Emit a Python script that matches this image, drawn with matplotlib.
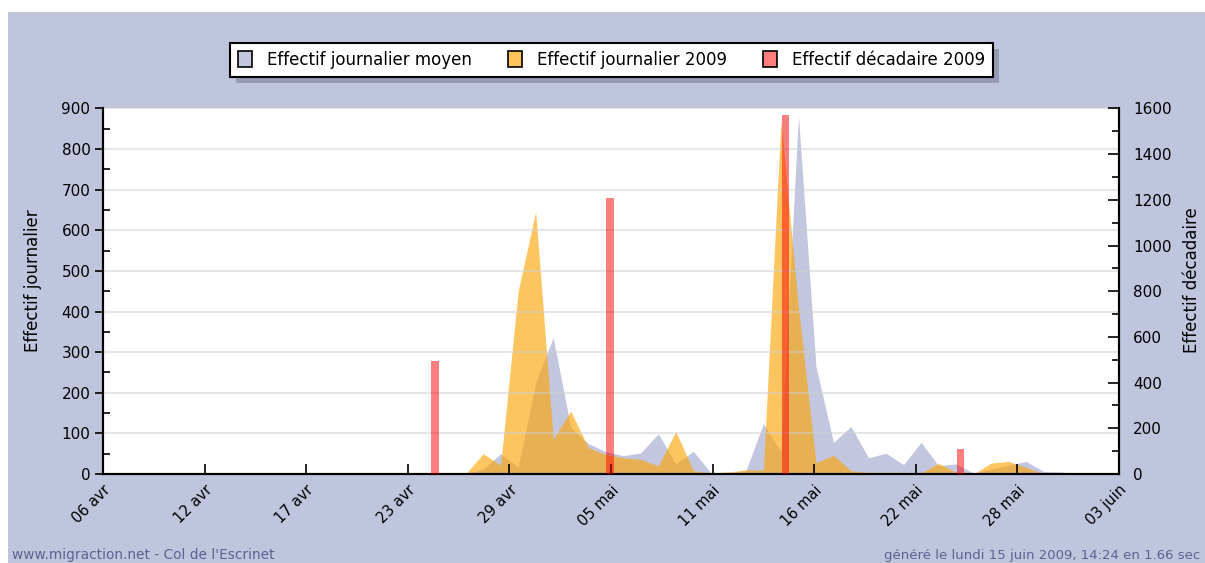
import numpy as np
import matplotlib
matplotlib.use("Agg")
import matplotlib.pyplot as plt
from matplotlib.patches import Patch, Rectangle

# ---------------- data ----------------
# daily values, day 0 = 06 avr 2009
moyen = [0, 0, 0, 0, 0, 0, 0, 0, 0, 0, 0, 0, 0, 0, 0, 0, 0, 0,
         3, 3, 3, 0, 12, 50, 17, 225, 336, 115, 75, 55,
         45, 52, 99, 25, 56, 3, 2, 8, 124, 55,
         882, 265, 78, 117, 40, 51, 23, 78, 20, 25,
         2, 12, 22, 31, 6, 5, 0, 0]
journalier_2009 = [0, 0, 0, 0, 0, 0, 0, 0, 0, 0, 0, 0, 0, 0, 0, 0, 0, 0,
                   0, 0, 0, 0, 50, 22, 450, 646, 86, 155, 65, 48,
                   40, 36, 20, 105, 8, 3, 5, 10, 10, 870,
                   410, 28, 46, 8, 4, 4, 4, 3, 26, 4,
                   0, 27, 31, 16, 0, 0, 0, 0]
decade_day = [19, 29, 39, 49]          # 25 avr, 05 mai, 15 mai, 25 mai
decade_2009 = [495, 1210, 1572, 110]
tick_labels = ["06 avr", "12 avr", "17 avr", "23 avr", "29 avr", "05 mai",
               "11 mai", "16 mai", "22 mai", "28 mai", "03 juin"]
legend_labels = ["Effectif journalier moyen", "Effectif journalier 2009",
                 "Effectif décadaire 2009"]

# ---------------- style ----------------
W, H = 1205, 563
BG = "#c0c5de"
GREY = "#c2c6de"
ORANGE = "#fca709"
plt.rcParams["font.family"] = ["DejaVu Sans"]

fig = plt.figure(figsize=(W / 100, H / 100), dpi=100)
fig.patch.set_facecolor("white")
fig.add_artist(Rectangle((8 / W, 0), 1 - 8 / W, 1 - 12 / H, transform=fig.transFigure,
                         facecolor=BG, edgecolor="none", zorder=0))

ax = fig.add_axes([103 / W, 89 / H, 1016 / W, 365.5 / H])
ax.set_facecolor("white")
x = np.arange(len(moyen))
ax.fill_between(x, 0, moyen, color=GREY, lw=0, zorder=1)
ax.fill_between(x, 0, journalier_2009, color=ORANGE, alpha=0.65, lw=0, zorder=2)
ax.set_xlim(0.3, 58.3)
ax.set_ylim(0, 900)
ax.set_axisbelow(False)
ax.yaxis.grid(True, color="#cfcfcf", lw=1.5, alpha=0.5)

ax.set_yticks(np.arange(0, 901, 100))
ax.set_yticks(np.arange(50, 900, 100), minor=True)
ax.set_xticks(np.linspace(0.3, 58.3, len(tick_labels)))
ax.set_xticklabels(tick_labels, rotation=45, ha="right", va="top",
                   rotation_mode="anchor", fontsize=10.5)
ax.tick_params(axis="y", which="major", direction="out", length=6, width=1.2,
               labelsize=11, pad=3)
ax.tick_params(axis="y", which="minor", direction="in", length=5, width=1.2)
ax.tick_params(axis="x", which="major", direction="in", length=7, width=1.2, pad=6)
for s in ["left", "bottom", "right"]:
    ax.spines[s].set_linewidth(1.5)
ax.spines["top"].set_visible(False)
ax.set_ylabel("Effectif journalier", fontsize=12, va="center")
ax.yaxis.set_label_coords(-70 / 1016, 0.53)

ax2 = ax.twinx()
ax2.bar(np.array(decade_day) + 0.25, decade_2009, width=0.42, color="red",
        alpha=0.5, lw=0, zorder=3)
ax2.set_ylim(0, 1600)
ax2.set_yticks(np.arange(0, 1601, 200))
ax2.set_yticks(np.arange(100, 1600, 200), minor=True)
ax2.tick_params(axis="y", which="major", direction="in", length=8, width=1.2,
                labelsize=11, pad=10)
ax2.tick_params(axis="y", which="minor", direction="in", length=5, width=1.2)
for s in ["left", "bottom", "right"]:
    ax2.spines[s].set_linewidth(1.5)
ax2.spines["top"].set_visible(False)
ax2.set_ylabel("Effectif décadaire", fontsize=12, va="center", rotation=90)
ax2.yaxis.set_label_coords(1 + 73 / 1016, 0.53)

handles = [Patch(facecolor=GREY, edgecolor="black", lw=1.2),
           Patch(facecolor="#fdc35c", edgecolor="black", lw=1.2),
           Patch(facecolor="#ff7f7f", edgecolor="black", lw=1.2)]
leg = fig.legend(handles, legend_labels, loc="center",
                 bbox_to_anchor=(611.5 / W, 1 - 60 / H), ncol=3, frameon=True,
                 fancybox=False, edgecolor="black", facecolor="white",
                 framealpha=1, fontsize=12, handlelength=0.8, handleheight=1.1,
                 handletextpad=0.9, columnspacing=2.2, borderpad=0.5)
leg.get_frame().set_linewidth(1.5)
leg.set_zorder(5)

fig.canvas.draw()
bb = leg.get_window_extent()
fig.add_artist(Rectangle(((bb.x0 + 6) / W, (bb.y0 - 6) / H), bb.width / W, bb.height / H,
                         transform=fig.transFigure, facecolor="#969ab4",
                         edgecolor="none", zorder=4))

fig.text(12 / W, 1 - 555 / H, "www.migraction.net - Col de l'Escrinet",
         fontsize=9.9, color="#5c6290", va="center", ha="left")
fig.text(1200 / W, 1 - 555 / H, "généré le lundi 15 juin 2009, 14:24 en 1.66 sec",
         fontsize=9.5, color="#5c6290", va="center", ha="right")

fig.savefig("out.png", dpi=100, facecolor=fig.get_facecolor())
